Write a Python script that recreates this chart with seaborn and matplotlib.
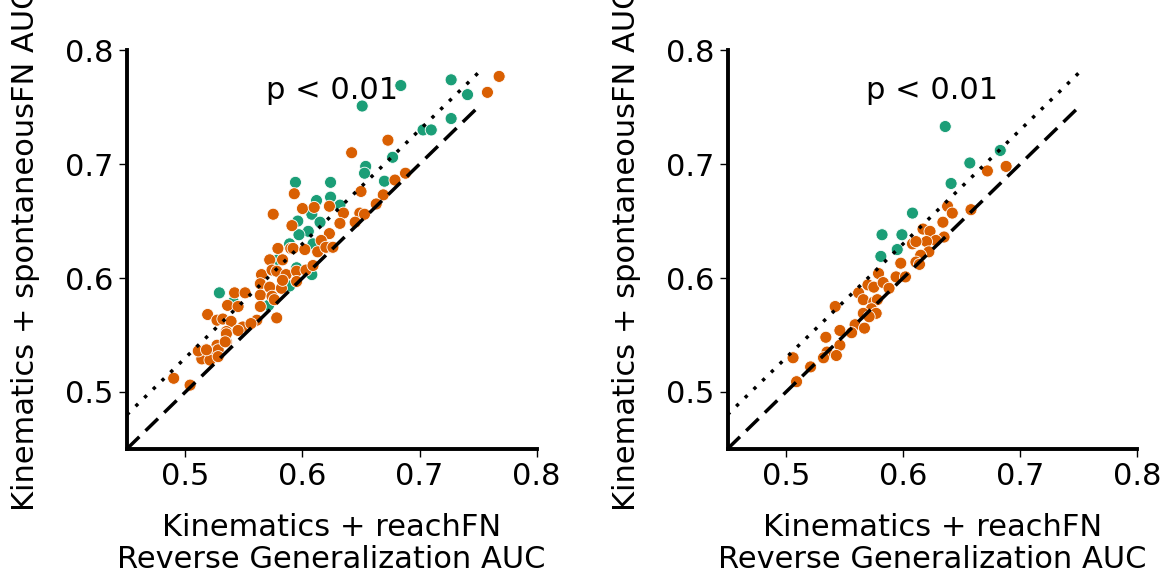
import numpy as np
import pandas as pd
import matplotlib
matplotlib.use('Agg')
import matplotlib.pyplot as plt
import seaborn as sns

# 왼쪽 패널 (teal / orange)
left_teal_x = [0.651, 0.684, 0.727, 0.741, 0.727, 0.703, 0.710, 0.677, 0.654, 0.653,
               0.670, 0.594, 0.624, 0.612, 0.624, 0.632, 0.608, 0.596, 0.615, 0.605,
               0.597, 0.609, 0.589, 0.579, 0.595, 0.608, 0.589, 0.529, 0.541, 0.571]
left_teal_y = [0.751, 0.769, 0.774, 0.761, 0.740, 0.730, 0.730, 0.706, 0.698, 0.692,
               0.685, 0.684, 0.684, 0.668, 0.671, 0.664, 0.656, 0.650, 0.649, 0.641,
               0.638, 0.630, 0.630, 0.616, 0.609, 0.603, 0.593, 0.587, 0.579, 0.576]

left_orange_x = [0.768, 0.758, 0.673, 0.642, 0.688, 0.679, 0.593, 0.650, 0.669, 0.600,
                 0.610, 0.623, 0.663, 0.575, 0.635, 0.649, 0.653, 0.591, 0.632, 0.645,
                 0.623, 0.616, 0.579, 0.590, 0.623, 0.613, 0.592, 0.572, 0.583, 0.565,
                 0.574, 0.578, 0.586, 0.595, 0.603, 0.609, 0.602, 0.620, 0.626, 0.564,
                 0.572, 0.582, 0.564, 0.574, 0.595, 0.583, 0.542, 0.551, 0.536, 0.545,
                 0.564, 0.576, 0.578, 0.519, 0.527, 0.532, 0.539, 0.561, 0.549, 0.556,
                 0.535, 0.545, 0.535, 0.527, 0.517, 0.524, 0.528, 0.514, 0.521, 0.528,
                 0.504, 0.490, 0.511, 0.518, 0.535, 0.534]
left_orange_y = [0.777, 0.763, 0.721, 0.710, 0.692, 0.686, 0.674, 0.676, 0.673, 0.661,
                 0.662, 0.663, 0.665, 0.656, 0.657, 0.657, 0.656, 0.646, 0.648, 0.649,
                 0.639, 0.633, 0.626, 0.626, 0.627, 0.623, 0.626, 0.616, 0.616, 0.603,
                 0.607, 0.606, 0.603, 0.606, 0.607, 0.611, 0.625, 0.627, 0.627, 0.595,
                 0.592, 0.591, 0.585, 0.584, 0.597, 0.598, 0.587, 0.587, 0.576, 0.575,
                 0.575, 0.581, 0.565, 0.568, 0.563, 0.564, 0.562, 0.563, 0.557, 0.560,
                 0.553, 0.554, 0.544, 0.541, 0.537, 0.535, 0.537, 0.529, 0.528, 0.531,
                 0.506, 0.512, 0.536, 0.537, 0.551, 0.544]

# 오른쪽 패널
right_teal_x = [0.636, 0.683, 0.657, 0.641, 0.608, 0.582, 0.599, 0.595, 0.581]
right_teal_y = [0.733, 0.712, 0.701, 0.683, 0.657, 0.638, 0.638, 0.625, 0.619]

right_orange_x = [0.688, 0.672, 0.658, 0.638, 0.642, 0.634, 0.635, 0.617, 0.623, 0.628,
                  0.620, 0.608, 0.611, 0.622, 0.615, 0.611, 0.614, 0.598, 0.594, 0.602,
                  0.579, 0.570, 0.575, 0.583, 0.588, 0.562, 0.566, 0.575, 0.578, 0.573,
                  0.577, 0.542, 0.566, 0.571, 0.546, 0.559, 0.567, 0.556, 0.534, 0.546,
                  0.535, 0.532, 0.543, 0.506, 0.521, 0.509]
right_orange_y = [0.698, 0.694, 0.660, 0.663, 0.657, 0.649, 0.636, 0.643, 0.641, 0.633,
                  0.632, 0.630, 0.632, 0.623, 0.620, 0.614, 0.612, 0.613, 0.601, 0.601,
                  0.604, 0.594, 0.592, 0.596, 0.591, 0.587, 0.581, 0.579, 0.581, 0.573,
                  0.569, 0.575, 0.569, 0.566, 0.554, 0.559, 0.556, 0.552, 0.548, 0.541,
                  0.535, 0.530, 0.532, 0.530, 0.522, 0.509]

ticks = [0.5, 0.6, 0.7, 0.8]
p_text = 'p < 0.01'
xlabel = 'Kinematics + reachFN\nReverse Generalization AUC'
ylabel = 'Kinematics + spontaneousFN AUC'
colors = {'teal': '#1b9e77', 'orange': '#d95f02'}

sns.set_style('white')
plt.rcParams['font.family'] = ['DejaVu Sans']
plt.rcParams['font.size'] = 22
for k in ['text.color', 'axes.labelcolor', 'xtick.color', 'ytick.color']:
    plt.rcParams[k] = 'black'

fig = plt.figure(figsize=(11.64, 5.77), dpi=100)
ax1 = fig.add_axes([0.109, 0.222, 0.352, 0.691])
ax2 = fig.add_axes([0.625, 0.222, 0.352, 0.691])

panels = [(ax1, left_teal_x, left_teal_y, left_orange_x, left_orange_y),
          (ax2, right_teal_x, right_teal_y, right_orange_x, right_orange_y)]

for ax, tx, ty, ox, oy in panels:
    df = pd.DataFrame({
        'x': tx + ox,
        'y': ty + oy,
        'grp': ['teal'] * len(tx) + ['orange'] * len(ox),
    })
    sns.scatterplot(data=df, x='x', y='y', hue='grp', palette=colors,
                    s=75, edgecolor='white', linewidth=0.6, legend=False, ax=ax,
                    zorder=2)
    # 대각선 (y = x) 과 오프셋 선
    ax.plot([0.45, 0.75], [0.45, 0.75], color='black', ls=(0, (5, 2.5)), lw=2.5, zorder=3)
    ax.plot([0.45, 0.75], [0.48, 0.78], color='black', ls=(0, (1, 2.5)), lw=2.5, zorder=3)
    ax.text(0.5, 0.9, p_text, transform=ax.transAxes, ha='center', va='center', fontsize=22)

    ax.set_xlim(0.45, 0.8)
    ax.set_ylim(0.45, 0.8)
    ax.set_xticks(ticks)
    ax.set_yticks(ticks)
    ax.set_xticklabels([f'{t:.1f}' for t in ticks])
    ax.set_yticklabels([f'{t:.1f}' for t in ticks])
    ax.tick_params(axis='both', which='major', direction='out', length=6, width=1,
                   labelsize=22, left=True, bottom=True)
    for side in ['top', 'right']:
        ax.spines[side].set_visible(False)
    for side in ['left', 'bottom']:
        ax.spines[side].set_linewidth(2.8)
        ax.spines[side].set_color('black')
    ax.set_xlabel(xlabel, fontsize=22, labelpad=16, linespacing=1.1)
    ax.set_ylabel(ylabel, fontsize=22, labelpad=18)

fig.savefig('out.png', dpi=100)
